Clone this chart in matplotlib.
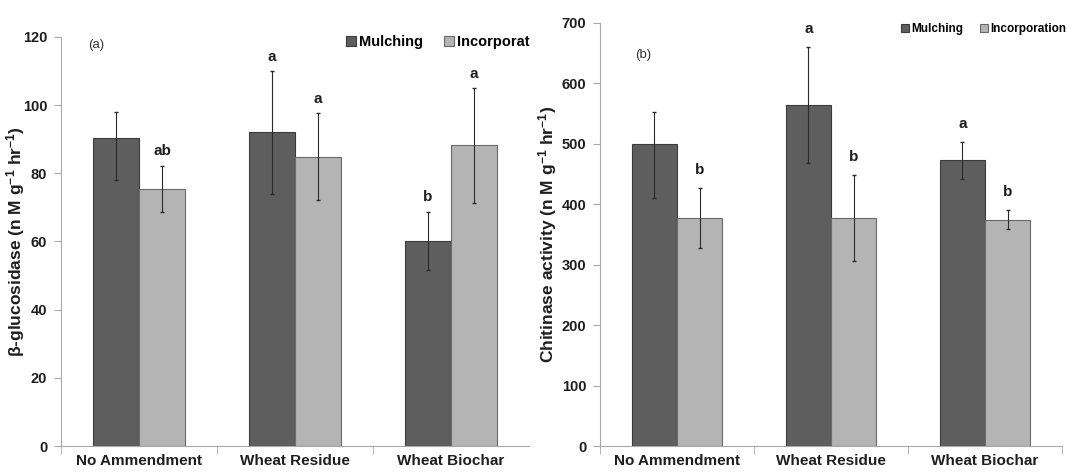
import numpy as np
import matplotlib.pyplot as plt

categories = ["No Ammendment", "Wheat Residue", "Wheat Biochar"]

# (a) beta-glucosidase: means, error bar lower / upper ends
gluc_mulch = [90.5, 92, 60]
gluc_mulch_lo = [78, 74, 51.5]
gluc_mulch_hi = [98, 110, 68.7]
gluc_incorp = [75.5, 84.7, 88.3]
gluc_incorp_lo = [68.7, 72.2, 71.4]
gluc_incorp_hi = [82.2, 97.6, 105]
gluc_mulch_lbl = ["", "a", "b"]
gluc_incorp_lbl = ["ab", "a", "a"]

# (b) chitinase
chit_mulch = [500, 565, 473]
chit_mulch_lo = [410, 468, 442]
chit_mulch_hi = [553, 660, 503]
chit_incorp = [378, 378, 374]
chit_incorp_lo = [328, 306, 359]
chit_incorp_hi = [427, 449, 390]
chit_mulch_lbl = ["", "a", "a"]
chit_incorp_lbl = ["b", "b", "b"]

plt.rcParams["font.family"] = ["Liberation Sans", "DejaVu Sans"]
plt.rcParams["font.weight"] = "bold"
plt.rcParams["mathtext.default"] = "regular"

dark = "#5e5e5e"
light = "#b4b4b4"
axcol = "#a8a8a8"
txt = "#1e1e1e"
w = 0.295


def panel(ax, m, mlo, mhi, inc, ilo, ihi, ml, il, ymax, ystep, ylabel, tag, legtxt, legfs, legpos, off, ends):
    x = np.arange(len(categories))
    m, inc = np.array(m), np.array(inc)
    me = [m - np.array(mlo), np.array(mhi) - m]
    ie = [inc - np.array(ilo), np.array(ihi) - inc]
    ax.bar(x - w / 2, m, w, color=dark, edgecolor="#3c3c3c", linewidth=0.8, label="Mulching")
    ax.bar(x + w / 2, inc, w, color=light, edgecolor="#6a6a6a", linewidth=0.8, label=legtxt)
    ax.errorbar(x - w / 2, m, yerr=me, fmt="none", ecolor="#2a2a2a", elinewidth=0.8, capsize=1.5)
    ax.errorbar(x + w / 2, inc, yerr=ie, fmt="none", ecolor="#2a2a2a", elinewidth=0.8, capsize=1.5)
    for i in range(len(x)):
        if ml[i]:
            ax.text(x[i] - w / 2, mhi[i] + off, ml[i], ha="center", va="bottom",
                    fontsize=11, fontweight="bold", color=txt)
        if il[i]:
            ax.text(x[i] + w / 2, ihi[i] + off, il[i], ha="center", va="bottom",
                    fontsize=11, fontweight="bold", color=txt)
    ax.set_xlim(-0.5, 2.5)
    ax.set_ylim(0, ymax)
    ax.set_yticks(np.arange(0, ymax + 1, ystep))
    ax.set_xticks(x)
    ax.set_xticklabels(categories, fontsize=11, fontweight="bold", color=txt)
    ax.set_xticks(ends, minor=True)
    ax.tick_params(axis="x", which="major", length=0, pad=6)
    ax.tick_params(axis="x", which="minor", length=6, color=axcol, direction="out")
    ax.tick_params(axis="y", length=5, color=axcol, labelsize=10.5, labelcolor=txt, pad=5)
    for t in ax.get_yticklabels():
        t.set_fontweight("bold")
    for s in ["top", "right"]:
        ax.spines[s].set_visible(False)
    for s in ["left", "bottom"]:
        ax.spines[s].set_color(axcol)
    ax.set_ylabel(ylabel, fontsize=12.5, fontweight="bold", color=txt)
    ax.text(tag[0], tag[1], tag[2], transform=ax.transAxes, fontsize=9.5,
            fontweight="normal", color="#333333", va="center")
    ax.legend(loc="center", bbox_to_anchor=legpos, ncol=2, frameon=False,
              handlelength=0.7, handleheight=0.7, handletextpad=0.2, columnspacing=1.4,
              prop={"size": legfs, "weight": "bold"}, borderaxespad=0)


fig = plt.figure(figsize=(10.78, 4.76), dpi=100)
ax1 = fig.add_axes([0.0566, 0.063, 0.434, 0.8593])
ax2 = fig.add_axes([0.5566, 0.063, 0.4286, 0.8887])

panel(ax1, gluc_mulch, gluc_mulch_lo, gluc_mulch_hi, gluc_incorp, gluc_incorp_lo,
      gluc_incorp_hi, gluc_mulch_lbl, gluc_incorp_lbl, 120, 20,
      r"β-glucosidase (n M g$^{-1}$ hr$^{-1}$)",
      (0.058, 0.98, "(a)"), "Incorporat", 10.5, (0.805, 0.988), 2.2, [-0.5, 0.5, 1.5])
ax1.yaxis.set_label_coords(-0.073, 0.5)
panel(ax2, chit_mulch, chit_mulch_lo, chit_mulch_hi, chit_incorp, chit_incorp_lo,
      chit_incorp_hi, chit_mulch_lbl, chit_incorp_lbl, 700, 100,
      r"Chitinase activity (n M g$^{-1}$ hr$^{-1}$)",
      (0.075, 0.925, "(b)"), "Incorporation", 8.5, (0.83, 0.985), 18, [-0.5, 0.5, 1.5, 2.5])
ax2.yaxis.set_label_coords(-0.089, 0.5)

fig.savefig("out.png", dpi=100)
